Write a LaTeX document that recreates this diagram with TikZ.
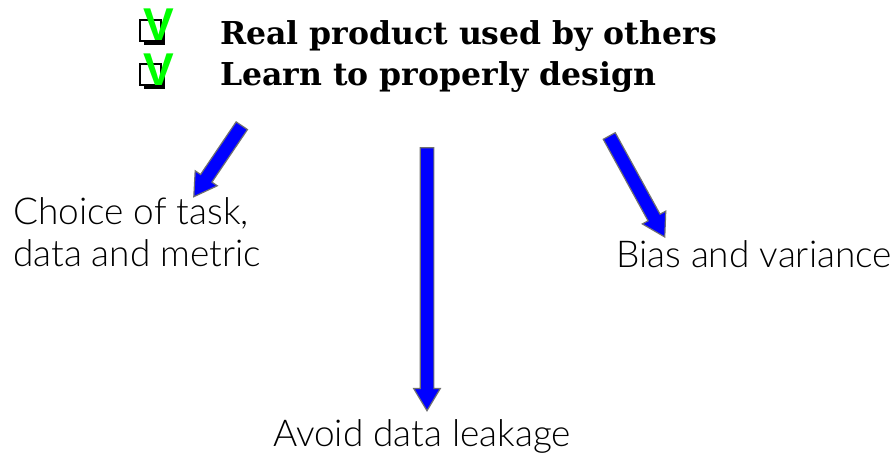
\documentclass[tikz,border=0pt]{standalone}
\usepackage{fontspec}
\setmainfont{Lato Light}
\newfontfamily\headfont{DejaVu Serif}
\newfontfamily\tickfont{Liberation Sans}
\usetikzlibrary{calc,shapes.arrows,shadows}

\definecolor{tickgreen}{RGB}{0,255,0}
\definecolor{arrowblue}{RGB}{0,0,255}
\definecolor{arrowedge}{RGB}{112,112,112}

\tikzset{
  bluearrow/.style={single arrow, draw=arrowedge, fill=arrowblue, line width=1.2pt,
    inner xsep=0pt, inner ysep=6.25pt, minimum width=0pt, outer sep=0pt,
    single arrow head extend=6.5pt, single arrow tip angle=62},
  goal/.style={font=\headfont\bfseries\fontsize{31.5}{38}\selectfont, anchor=base west, inner sep=0pt},
  topic/.style={font=\fontsize{37}{42}\selectfont, anchor=base west, inner sep=0pt, align=left},
  tickbox/.style={draw=black, fill=white, line width=2pt, minimum size=21pt, inner sep=0pt,
    drop shadow={shadow xshift=4pt, shadow yshift=-4pt, fill=black, opacity=1}},
  tick/.style={font=\tickfont\bfseries\fontsize{46}{46}\selectfont, text=tickgreen, anchor=base, inner sep=0pt},
}

\newcommand{\blockarrow}[3]{%
  \path let \p1=($(#3)-(#2)$), \n1={atan2(\y1,\x1)}, \n2={veclen(\x1,\y1)} in
    node[bluearrow, rotate=\n1, minimum height=\n2] (#1) at ($(#2)!0.5!(#3)$) {};}

\begin{document}
\begin{tikzpicture}[x=1pt,y=1pt]
\useasboundingbox (0,0) rectangle (896,457);

\node[tickbox] (boxA) at (150.5,426.5) {};
\node[tickbox] (boxB) at (150.5,382.5) {};
\node[tick] (tickA) at (158.5,416) {V};
\node[tick] (tickB) at (158.5,371) {V};

\node[goal] (goalA) at (220,412) {Real product used by others};
\node[goal] (goalB) at (220,371) {Learn to properly design};

\node[topic] (task) at (13,190) {Choice of task,\\data and metric};
\node[topic] (bias) at (616,189) {Bias and variance};
\node[topic] (leak) at (273,10) {Avoid data leakage};

\coordinate (tailA) at (245,336);
\coordinate (tipA) at (197,265);
\coordinate (tailB) at (427,315);
\coordinate (tipB) at (427,52);
\coordinate (tailC) at (606.5,326);
\coordinate (tipC) at (662,225);

\blockarrow{arrA}{tailA}{tipA}
\blockarrow{arrB}{tailB}{tipB}
\blockarrow{arrC}{tailC}{tipC}

\end{tikzpicture}
\end{document}
